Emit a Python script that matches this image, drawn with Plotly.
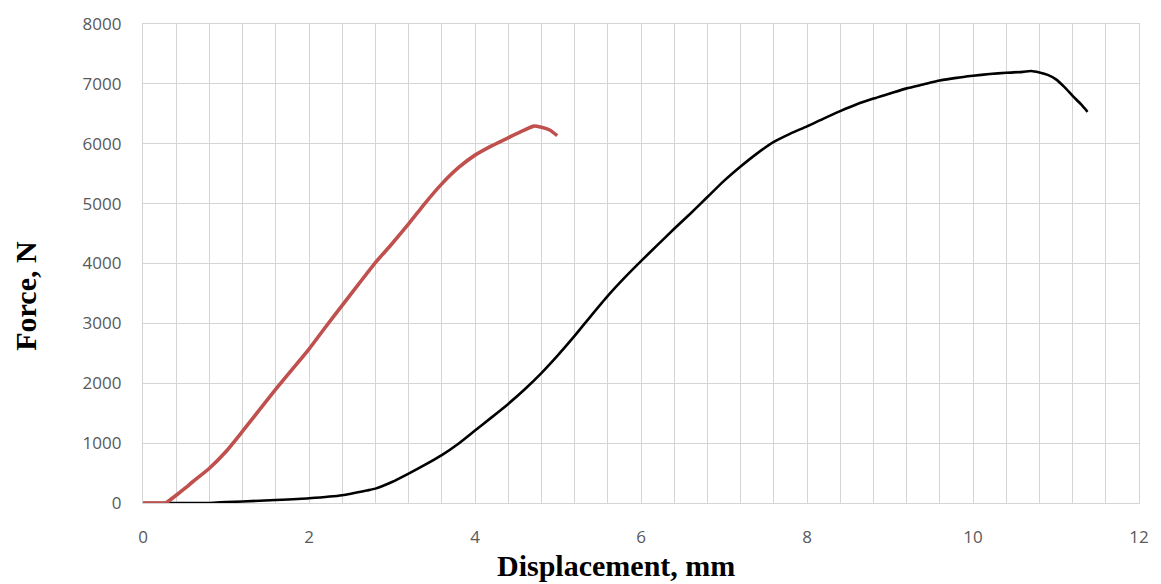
import plotly.graph_objects as go

# Red specimen curve (displacement mm, force N)
red_disp = [0, 0.1, 0.2, 0.27, 0.3, 0.4, 0.5, 0.6, 0.8, 1.0, 1.2, 1.4, 1.6, 1.8, 2.0, 2.2, 2.4, 2.6,
            2.8, 3.0, 3.2, 3.4, 3.6, 3.8, 4.0, 4.2, 4.4, 4.6, 4.71, 4.8, 4.9, 4.99]
red_force = [0, 0, 0, 0, 25, 130, 240, 355, 580, 860, 1200, 1550, 1900, 2235, 2570, 2940, 3300, 3660,
             4015, 4330, 4660, 5010, 5330, 5600, 5810, 5965, 6100, 6230, 6295, 6274, 6230, 6136]

# Black specimen curve
black_disp = [0, 0.8, 1.0, 1.2, 1.6, 2.0, 2.4, 2.7, 2.8, 3.0, 3.2, 3.4, 3.6, 3.8, 4.0, 4.2,
              4.4, 4.6, 4.8, 5.0, 5.2, 5.4, 5.6, 5.8, 6.0, 6.2, 6.4, 6.6, 6.8, 7.0, 7.2, 7.4, 7.6,
              7.8, 8.0, 8.2, 8.4, 8.6, 8.8, 9.0, 9.2, 9.4, 9.6, 9.8, 10.0, 10.2, 10.4, 10.6,
              10.7, 10.8, 10.9, 11.0, 11.1, 11.2, 11.3, 11.38]
black_force = [0, 0, 15, 25, 50, 80, 130, 210, 240, 350, 490, 640, 800, 990, 1210, 1430,
               1655, 1900, 2170, 2470, 2790, 3130, 3460, 3760, 4040, 4310, 4580, 4840, 5110, 5380,
               5620, 5840, 6030, 6170, 6290, 6420, 6545, 6660, 6755, 6840, 6925, 6990, 7055, 7100,
               7135, 7165, 7186, 7200, 7214, 7190, 7150, 7076, 6950, 6800, 6660, 6534]

x_title = "Displacement, mm"
y_title = "Force, N"

grid = "#d4d4d4"
tickfont = dict(family="Open Sans", size=17, color="#595959")
titlefont = dict(family="Liberation Serif", size=30, color="#000000")

fig = go.Figure()
fig.add_trace(go.Scatter(x=black_disp, y=black_force, mode="lines",
                         line=dict(color="#000000", width=2.6, shape="spline", smoothing=0.6),
                         showlegend=False))
fig.add_trace(go.Scatter(x=red_disp, y=red_force, mode="lines",
                         line=dict(color="#c0504d", width=3.6, shape="spline", smoothing=0.6),
                         showlegend=False))

fig.update_layout(
    width=1161, height=584,
    margin=dict(l=143, r=20, t=21, b=81),
    paper_bgcolor="white", plot_bgcolor="white",
    xaxis=dict(range=[0, 12], dtick=2, tick0=0, showgrid=True, gridcolor=grid, gridwidth=1.3,
               minor=dict(dtick=0.4, showgrid=True, gridcolor=grid, gridwidth=1.3),
               showline=True, linecolor=grid, linewidth=1.3, mirror=True, zeroline=False,
               ticks="outside", ticklen=18, tickcolor="rgba(0,0,0,0)", tickfont=tickfont),
    yaxis=dict(range=[0, 8000], dtick=1000, tick0=0, showgrid=True, gridcolor=grid, gridwidth=1.3,
               showline=True, linecolor=grid, linewidth=1.3, mirror=True, zeroline=False,
               ticks="outside", ticklen=17, tickcolor="rgba(0,0,0,0)", tickfont=tickfont),
    annotations=[
        dict(text="<b>%s</b>" % x_title, xref="paper", yref="paper", x=0.475, y=-0.1307,
             xanchor="center", yanchor="middle", showarrow=False, font=titlefont),
        dict(text="<b>%s</b>" % y_title, xref="paper", yref="paper", x=-0.118, y=0.4336,
             xanchor="center", yanchor="middle", textangle=-90, showarrow=False, font=titlefont),
    ],
)

fig.write_html("out.html", config={"displayModeBar": False},
               post_script="document.body.style.margin='0';document.body.style.overflow='hidden';")
